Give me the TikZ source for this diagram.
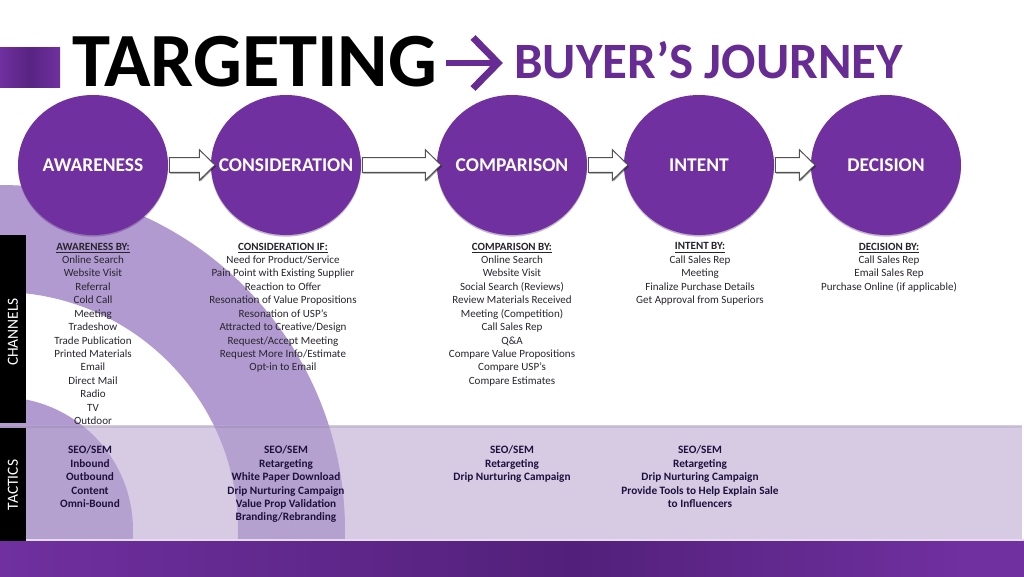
\documentclass[tikz,border=0pt]{standalone}
\usepackage{fontspec}
\setmainfont{Carlito}
\usetikzlibrary{shapes.geometric,shadows,calc}
\definecolor{pur}{RGB}{112,48,160}
\definecolor{purdark}{RGB}{82,32,122}
\definecolor{arcc}{RGB}{177,154,207}
\definecolor{bandc}{RGB}{185,167,208}
\definecolor{bodytxt}{RGB}{40,36,46}
\definecolor{tactxt}{RGB}{30,16,62}
\pgfdeclarehorizontalshading{barshade}{100bp}{color(0bp)=(pur);color(25bp)=(pur);color(53bp)=(purdark);color(72bp)=(pur);color(100bp)=(pur)}
\tikzset{
  x=0.75pt,y=-0.75pt,
  stage/.style={ellipse,inner sep=0pt,minimum width=112.5pt,minimum height=105pt,fill=pur,text=white,font=\fontsize{14.6}{16}\selectfont\bfseries,
     drop shadow={shadow xshift=0pt,shadow yshift=-1.2pt,opacity=.35,fill=purdark}},
  listtxt/.style={anchor=north,align=center,inner sep=0pt,text=bodytxt,font=\fontsize{8.27}{10.08}\selectfont},
  tactic/.style={anchor=north,align=center,inner sep=0pt,text=tactxt,font=\fontsize{8.45}{10.08}\selectfont\bfseries},
  sidebox/.style={fill=black,inner sep=0pt},
  sidelab/.style={text=white,rotate=90,inner sep=0pt,font=\fontsize{11.6}{13}\selectfont},
  blockarrow/.style={draw=black!68,line width=.75pt,fill=white,line join=miter,
     drop shadow={shadow xshift=.7pt,shadow yshift=-.9pt,opacity=.45,fill=black}},
}
% #1 from node, #2 to node, #3 overlap of the tip on the target
\newcommand{\stagearrow}[3]{%
  \draw[blockarrow] let \p1=(#1.east),\p2=(#2.west) in
    (\x1+0.75pt,\y1-5.6pt) -- (\x2-#3pt,\y1-5.6pt) -- (\x2-#3pt,\y1-11.4pt)
    -- (\x2+3.2pt,\y1) -- (\x2-#3pt,\y1+11.4pt) -- (\x2-#3pt,\y1+5.6pt) -- (\x1+0.75pt,\y1+5.6pt) -- cycle;}
\newcommand{\stagetext}[1]{\makebox[0pt]{#1}}
\begin{document}
\begin{tikzpicture}
\useasboundingbox (0,0) rectangle (1024,576);
\fill[white] (0,0) rectangle (1024,576);
% concentric arcs
\begin{scope}
\clip (0,0) rectangle (1024,541);
\fill[arcc,even odd rule] (0,530) circle (345) (0,530) circle (238) (0,530) circle (133);
\end{scope}
% tactic band
\fill[bandc,opacity=.58] (0,425) rectangle (1022,539);
\fill[black,opacity=.07] (0,425.5) rectangle (1022,427.5);
\fill[pur!18!white] (0,538.5) rectangle (1024,541.5);
% bottom bar and top square
\shade[shading=barshade] (0,541) rectangle (1024,576);
\shade[left color=pur,right color=pur,middle color=purdark!80!pur] (0,47) rectangle (60,87);
% side labels
\node[sidebox,minimum width=19.5pt,minimum height=141pt] (chbox) at (13,329) {};
\node[sidebox,minimum width=19.5pt,minimum height=84.75pt] (tabox) at (13,484.5) {};
\node[sidelab] (chlab) at (13,332) {CHANNELS};
\node[sidelab] (talab) at (13,485) {TACTICS};
% title
\node[anchor=base west,inner sep=0pt,font=\fontsize{57.5}{60}\selectfont\bfseries] (title) at (72,86) {TARGETING};
\node[anchor=base west,inner sep=0pt,text=pur!92!black,font=\fontsize{38.2}{40}\selectfont\bfseries] (subtitle) at (514,78) {BUYER’S JOURNEY};
\draw[pur!92!black,line width=4.6pt] (446,63) -- (498,63);
\draw[pur!92!black,line width=5.2pt,miter limit=10] (473,37.5) -- (498,63) -- (473,88.5);
% stages
\node[stage] (aw) at (93,165) {\stagetext{AWARENESS}};
\node[stage] (co) at (286,165) {\stagetext{CONSIDERATION}};
\node[stage] (cp) at (512,165) {\stagetext{COMPARISON}};
\node[stage] (in) at (699,165) {\stagetext{INTENT}};
\node[stage] (de) at (886,165) {\stagetext{DECISION}};
\stagearrow{aw}{co}{8.5}
\stagearrow{co}{cp}{8.5}
\stagearrow{cp}{in}{8.5}
\stagearrow{in}{de}{8.5}
% channels lists
\node[listtxt] (l1) at (93,242.5) {\textbf{\underline{AWARENESS BY:}}\\Online Search\\Website Visit\\Referral\\Cold Call\\Meeting\\Tradeshow\\Trade Publication\\Printed Materials\\Email\\Direct Mail\\Radio\\TV\\Outdoor};
\node[listtxt] (l2) at (283,242.5) {\textbf{\underline{CONSIDERATION IF:}}\\Need for Product/Service\\Pain Point with Existing Supplier\\Reaction to Offer\\Resonation of Value Propositions\\Resonation of USP’s\\Attracted to Creative/Design\\Request/Accept Meeting\\Request More Info/Estimate\\Opt-in to Email};
\node[listtxt] (l3) at (512,242.5) {\textbf{\underline{COMPARISON BY:}}\\Online Search\\Website Visit\\Social Search (Reviews)\\Review Materials Received\\Meeting (Competition)\\Call Sales Rep\\Q\&A\\Compare Value Propositions\\Compare USP’s\\Compare Estimates};
\node[listtxt] (l4) at (700,242.5) {\textbf{\underline{INTENT BY:}}\\Call Sales Rep\\Meeting\\Finalize Purchase Details\\Get Approval from Superiors};
\node[listtxt] (l5) at (889,242.5) {\textbf{\underline{DECISION BY:}}\\Call Sales Rep\\Email Sales Rep\\Purchase Online (if applicable)};
% tactics lists
\node[tactic] (t1) at (90,445.5) {SEO/SEM\\Inbound\\Outbound\\Content\\Omni-Bound};
\node[tactic] (t2) at (286,445.5) {SEO/SEM\\Retargeting\\White Paper Download\\Drip Nurturing Campaign\\Value Prop Validation\\Branding/Rebranding};
\node[tactic] (t3) at (512,445.5) {SEO/SEM\\Retargeting\\Drip Nurturing Campaign};
\node[tactic] (t4) at (700,445.5) {SEO/SEM\\Retargeting\\Drip Nurturing Campaign\\Provide Tools to Help Explain Sale\\to Influencers};
\end{tikzpicture}
\end{document}
